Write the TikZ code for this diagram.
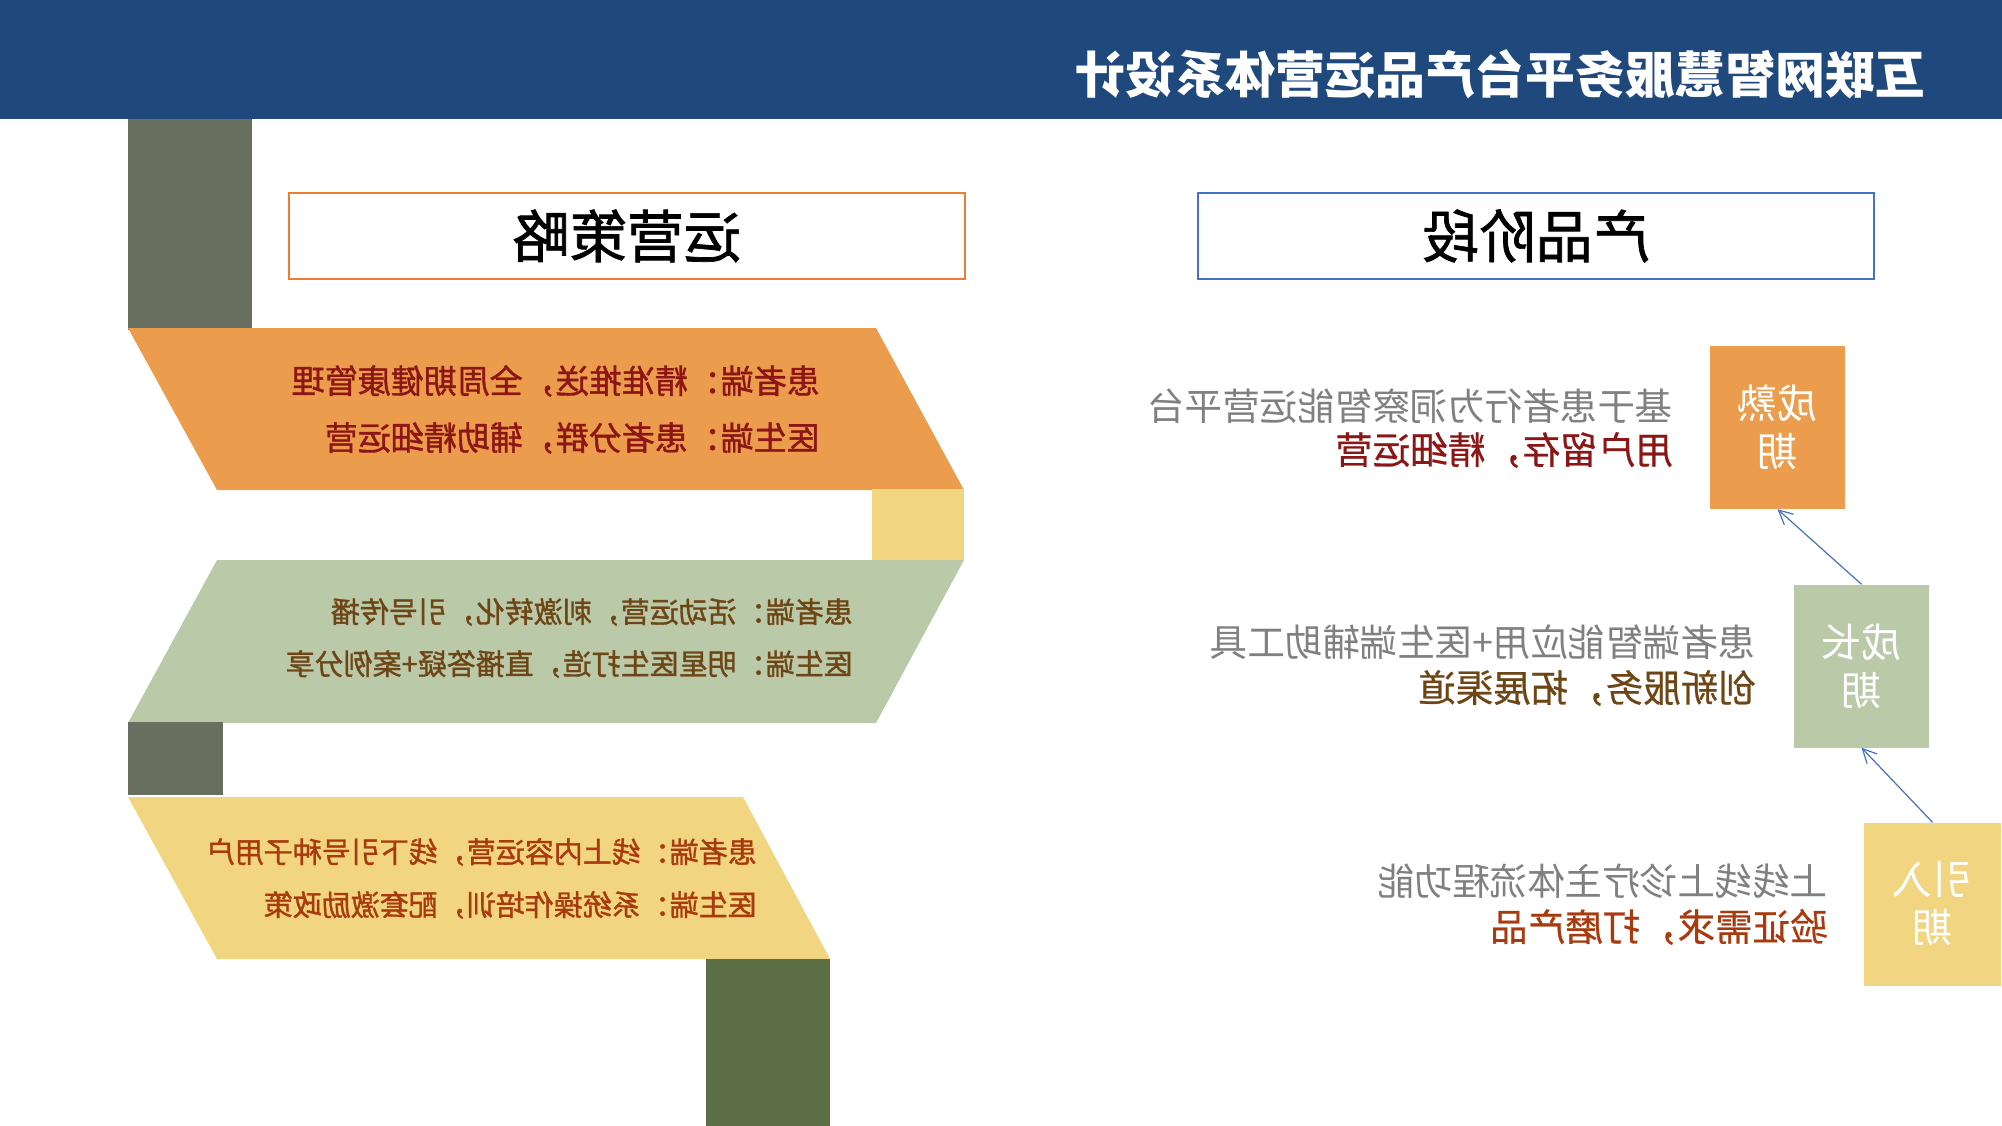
\documentclass[tikz,border=0pt]{standalone}
\usepackage{fontspec}
\setmainfont{Noto Sans CJK SC}
\newfontfamily\medf{Noto Sans CJK SC}[FakeBold=1.2]
\newfontfamily\semf{Noto Sans CJK SC}[FakeBold=0.6]
\usetikzlibrary{arrows.meta}
\definecolor{hdr}{RGB}{31,73,125}
\definecolor{orng}{RGB}{235,156,76}
\definecolor{sage}{RGB}{186,201,168}
\definecolor{ylw}{RGB}{241,213,128}
\definecolor{slate}{RGB}{104,111,94}
\definecolor{moss}{RGB}{93,112,69}
\definecolor{dred}{RGB}{140,22,22}
\definecolor{brwn}{RGB}{110,70,22}
\definecolor{rust}{RGB}{168,58,14}
\definecolor{gtxt}{RGB}{128,128,128}
\definecolor{obord}{RGB}{237,125,49}
\definecolor{bbord}{RGB}{68,114,196}
\newcommand{\mir}[1]{\reflectbox{#1}}
\tikzset{
  lefttxt/.style={anchor=east, inner sep=0pt},
  stagebox/.style={minimum width=135pt, minimum height=163pt, inner sep=0pt, align=center, text=white, font=\fontsize{40}{48}\selectfont},
  headbox/.style={fill=white, line width=2pt, minimum width=676pt, minimum height=85pt, inner sep=0pt, font=\medf\fontsize{57}{62}\selectfont},
  arr/.style={draw=bbord, line width=1.2pt, -{Straight Barb[length=14pt,width=14pt]}},
}
\begin{document}
\begin{tikzpicture}[x=1pt,y=-1pt]
\useasboundingbox (0,0) rectangle (2002,1126);
\fill[white] (0,0) rectangle (2002,1126);
% header
\fill[hdr] (0,0) rectangle (2002,119);
\node[anchor=east, inner sep=0pt, text=white, font=\bfseries\fontsize{50}{56}\selectfont] (title) at (1926,74) {\mir{互联网智慧服务平台产品运营体系设计}};
% left column connectors
\fill[slate] (128,119) rectangle (252,330);
\fill[orng] (128,328) -- (876,328) -- (964,490) -- (217,490) -- cycle;
\fill[ylw] (872,489) rectangle (964,560);
\fill[sage] (217,560) -- (964,560) -- (876,723) -- (128,723) -- cycle;
\fill[slate] (128,722) rectangle (223,795);
\fill[ylw] (128,797) -- (743,797) -- (830,959) -- (217,959) -- cycle;
\fill[moss] (706,959) rectangle (830,1126);
% left texts
\node[lefttxt, text=dred, font=\medf\fontsize{33}{38}\selectfont] (o1) at (820,381) {\mir{患者端：精准推送，全周期健康管理}};
\node[lefttxt, text=dred, font=\medf\fontsize{33}{38}\selectfont] (o2) at (820,438) {\mir{医生端：患者分群，辅助精细运营}};
\node[lefttxt, text=brwn, font=\medf\fontsize{29}{34}\selectfont] (g1) at (853,612) {\mir{患者端：活动运营，刺激转化，引号传播}};
\node[lefttxt, text=brwn, font=\medf\fontsize{29}{34}\selectfont] (g2) at (853,664) {\mir{医生端：明星医生打造，直播答疑+案例分享}};
\node[lefttxt, text=rust, font=\medf\fontsize{29}{35}\selectfont] (y1) at (757,852) {\mir{患者端：线上内容运营，线下引号种子用户}};
\node[lefttxt, text=rust, font=\medf\fontsize{29}{35}\selectfont] (y2) at (757,905) {\mir{医生端：系统操作培训，配套激励政策}};
% headers
\node[headbox, draw=obord] (h1) at (627,236) {\mir{运营策略}};
\node[headbox, draw=bbord] (h2) at (1536,236) {\mir{产品阶段}};
% stage boxes
\node[stagebox, fill=orng] (s1) at (1777.5,427.5) {\mir{成熟}\\\mir{期}};
\node[stagebox, fill=sage] (s2) at (1861.5,666) {\mir{成长}\\\mir{期}};
\node[stagebox, fill=ylw, minimum width=137pt] (s3) at (1932.5,904) {\mir{引入}\\\mir{期}};
\draw[arr] (s2.north) -- (s1.south);
\draw[arr] (s3.north) -- (s2.south);
% stage texts
\node[lefttxt, text=gtxt, font=\fontsize{37.5}{42}\selectfont] (t1a) at (1673,406) {\mir{基于患者行为洞察智能运营平台}};
\node[lefttxt, text=dred, font=\semf\fontsize{37.5}{42}\selectfont] (t1b) at (1673,450) {\mir{用户留存，精细运营}};
\node[lefttxt, text=gtxt, font=\fontsize{37.5}{42}\selectfont] (t2a) at (1756,642) {\mir{患者端智能应用+医生端辅助工具}};
\node[lefttxt, text=brwn, font=\semf\fontsize{37.5}{42}\selectfont] (t2b) at (1756,688) {\mir{创新服务，拓展渠道}};
\node[lefttxt, text=gtxt, font=\fontsize{37.5}{42}\selectfont] (t3a) at (1828,881) {\mir{上线线上诊疗主体流程功能}};
\node[lefttxt, text=rust, font=\semf\fontsize{37.5}{42}\selectfont] (t3b) at (1828,927) {\mir{验证需求，打磨产品}};
\end{tikzpicture}
\end{document}
